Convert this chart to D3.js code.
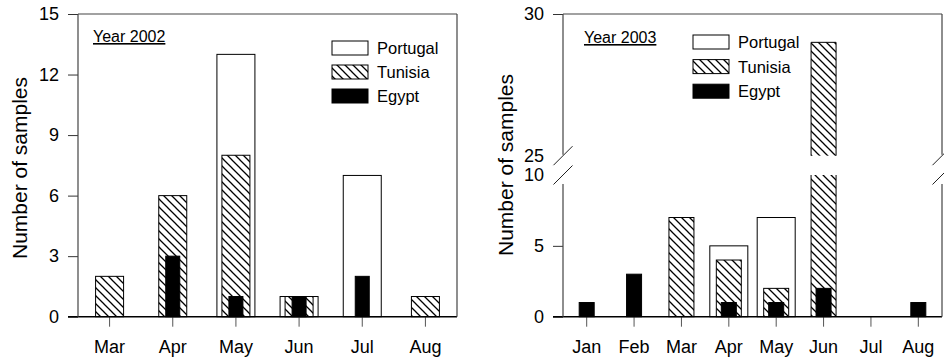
<!DOCTYPE html>
<html>
<head>
<meta charset="utf-8">
<script src="https://cdn.jsdelivr.net/npm/d3@7"></script>
<style>
  body { margin: 0; background: #fff; }
  text { font-family: "Liberation Sans", Arial, sans-serif; fill: #000; }
</style>
</head>
<body>
<svg id="chart" width="944" height="363"></svg>
<script>
// data
const series = ['Portugal', 'Tunisia', 'Egypt']

const months2002 = ['Mar', 'Apr', 'May', 'Jun', 'Jul', 'Aug']
const portugal2002 = [0, 0, 13, 1, 7, 0]
const tunisia2002 = [2, 6, 8, 1, 0, 1]
const egypt2002 = [0, 3, 1, 1, 2, 0]
const yTicks2002 = [0, 3, 6, 9, 12, 15]

const months2003 = ['Jan', 'Feb', 'Mar', 'Apr', 'May', 'Jun', 'Jul', 'Aug']
const portugal2003 = [0, 0, 0, 5, 7, 0, 0, 0]
const tunisia2003 = [0, 0, 7, 4, 2, 29, 0, 0]
const egypt2003 = [1, 3, 0, 1, 1, 2, 0, 1]
const yTicksLow2003 = [0, 5, 10]
const yTicksHigh2003 = [25, 30]

const svg = d3.select('#chart')

// diagonal hatch for Tunisia
const hatch = svg.append('defs').append('pattern')
    .attr('id', 'hatch')
    .attr('patternUnits', 'userSpaceOnUse')
    .attr('width', 8)
    .attr('height', 8)
hatch.append('rect').attr('width', 8).attr('height', 8).attr('fill', '#fff')
hatch.append('path')
    .attr('d', 'M-1,-1 L9,9 M-1,7 L1,9 M7,-1 L9,1')
    .attr('stroke', '#000')
    .attr('stroke-width', 1.3)

const fills = ['#fff', 'url(#hatch)', '#000']

function drawPanel(opt) {
    const g = svg.append('g')
    const x = d3.scaleBand().domain(opt.months).range([opt.left, opt.right])
    const y0 = opt.bottom

    // y mapping, optionally with a break
    let y, yLow, yHigh
    if (opt.breakAt) {
        yLow = d3.scaleLinear().domain([0, opt.breakAt[0]]).range([opt.bottom, opt.breakY[1]])
        yHigh = d3.scaleLinear().domain([opt.breakAt[1], opt.yMax]).range([opt.breakY[0], opt.top])
        y = v => v <= opt.breakAt[0] ? yLow(v) : yHigh(v)
    } else {
        y = d3.scaleLinear().domain([0, opt.yMax]).range([opt.bottom, opt.top])
    }

    // bars: Portugal behind, Tunisia, Egypt in front
    opt.values.forEach((vals, si) => {
        const w = opt.barWidths[si]
        vals.forEach((v, i) => {
            if (!v) return
            const cx = x(opt.months[i]) + x.bandwidth() / 2
            const bx = cx - w / 2
            if (opt.breakAt && v > opt.breakAt[0]) {
                const lowTop = yLow(opt.breakAt[0])
                const highBot = yHigh(opt.breakAt[1])
                const top = yHigh(v)
                g.append('rect').attr('x', bx).attr('y', lowTop)
                    .attr('width', w).attr('height', y0 - lowTop).attr('fill', fills[si])
                g.append('rect').attr('x', bx).attr('y', top)
                    .attr('width', w).attr('height', highBot - top).attr('fill', fills[si])
                g.append('path')
                    .attr('d', `M${bx},${y0}V${lowTop}M${bx + w},${lowTop}V${y0}` +
                               `M${bx},${highBot}V${top}H${bx + w}V${highBot}`)
                    .attr('fill', 'none').attr('stroke', '#000').attr('stroke-width', 1)
            } else {
                g.append('rect')
                    .attr('x', bx).attr('y', y(v))
                    .attr('width', w).attr('height', y0 - y(v))
                    .attr('fill', fills[si])
                    .attr('stroke', '#000').attr('stroke-width', 1)
            }
        })
    })

    // y axis
    const yAxes = opt.breakAt
        ? [[yLow, opt.yTicksLow], [yHigh, opt.yTicksHigh]]
        : [[y, opt.yTicks]]
    yAxes.forEach(([sc, tv]) => {
        const ax = g.append('g')
            .attr('transform', `translate(${opt.left},0)`)
            .call(d3.axisLeft(sc).tickValues(tv).tickFormat(d3.format('d'))
                .tickSize(10).tickPadding(9).tickSizeOuter(0))
        ax.attr('font-size', null).attr('font-family', null)
        ax.select('.domain').remove()
        ax.selectAll('text').style('font-size', '18px')
        ax.selectAll('line').attr('stroke', '#333')
        if (opt.breakAt) {
            ax.selectAll('.tick')
                .filter(d => d === opt.breakAt[0] || d === opt.breakAt[1])
                .select('line').remove()
        }
    })

    // x axis
    const xa = g.append('g')
        .attr('transform', `translate(0,${y0})`)
        .call(d3.axisBottom(x).tickSize(10).tickPadding(14).tickSizeOuter(0))
    xa.attr('font-size', null).attr('font-family', null)
    xa.select('.domain').remove()
    xa.selectAll('text').style('font-size', '18px')
    xa.selectAll('line').attr('stroke', '#555')

    // frame
    const frame = g.append('g').attr('fill', 'none').attr('stroke', '#000')
    frame.append('line').attr('x1', opt.left - 10).attr('x2', opt.right)
        .attr('y1', y0).attr('y2', y0).attr('stroke-width', 1.6)
    frame.append('line').attr('x1', opt.left).attr('x2', opt.right)
        .attr('y1', opt.top).attr('y2', opt.top).attr('stroke', '#444').attr('stroke-width', 1.2)
    ;[opt.left, opt.right].forEach(xx => {
        if (opt.breakAt) {
            const a = opt.breakY[0], b = opt.breakY[1]
            frame.append('path').attr('d', `M${xx},${y0}V${b + 9}M${xx},${a - 1}V${opt.top}`)
                .attr('stroke', '#444').attr('stroke-width', 1.2)
            ;[a, b].forEach(yy => {
                frame.append('line')
                    .attr('x1', xx - 9.5).attr('y1', yy + 9.5)
                    .attr('x2', xx + 9.5).attr('y2', yy - 9.5)
                    .attr('stroke', '#222').attr('stroke-width', 1)
            })
        } else {
            frame.append('line').attr('x1', xx).attr('x2', xx)
                .attr('y1', y0).attr('y2', opt.top)
                .attr('stroke', '#444').attr('stroke-width', 1.2)
        }
    })

    // y label
    g.append('text')
        .attr('transform', `translate(${opt.yLabelX},${opt.yLabelY}) rotate(-90)`)
        .attr('text-anchor', 'middle')
        .style('font-size', '21px')
        .text('Number of samples')

    // year label
    g.append('text')
        .attr('x', opt.yearX).attr('y', opt.yearY)
        .style('font-size', '16px')
        .style('text-decoration', 'underline')
        .text(opt.year)

    // legend
    const lg = g.append('g')
    series.forEach((s, i) => {
        const ly = opt.legendY + i * opt.legendStep
        lg.append('rect')
            .attr('x', opt.legendX).attr('y', ly)
            .attr('width', 36).attr('height', 14)
            .attr('fill', fills[i])
            .attr('stroke', '#000').attr('stroke-width', 1)
        lg.append('text')
            .attr('x', opt.legendX + 45).attr('y', ly + 13)
            .style('font-size', '16.5px')
            .text(s)
    })
}

drawPanel({
    months: months2002,
    values: [portugal2002, tunisia2002, egypt2002],
    barWidths: [38, 28, 14],
    yMax: 15,
    yTicks: yTicks2002,
    left: 78, right: 457, top: 14, bottom: 316.7,
    yLabelX: 27, yLabelY: 168,
    year: 'Year 2002', yearX: 93, yearY: 42,
    legendX: 332, legendY: 41, legendStep: 24
})

drawPanel({
    months: months2003,
    values: [portugal2003, tunisia2003, egypt2003],
    barWidths: [38, 25, 15],
    yMax: 30,
    yTicksLow: yTicksLow2003,
    yTicksHigh: yTicksHigh2003,
    breakAt: [10, 25],
    breakY: [155.7, 175],
    left: 563, right: 942, top: 14, bottom: 316.7,
    yLabelX: 513, yLabelY: 165,
    year: 'Year 2003', yearX: 584, yearY: 43,
    legendX: 693, legendY: 35, legendStep: 24.6
})
</script>
</body>
</html>
